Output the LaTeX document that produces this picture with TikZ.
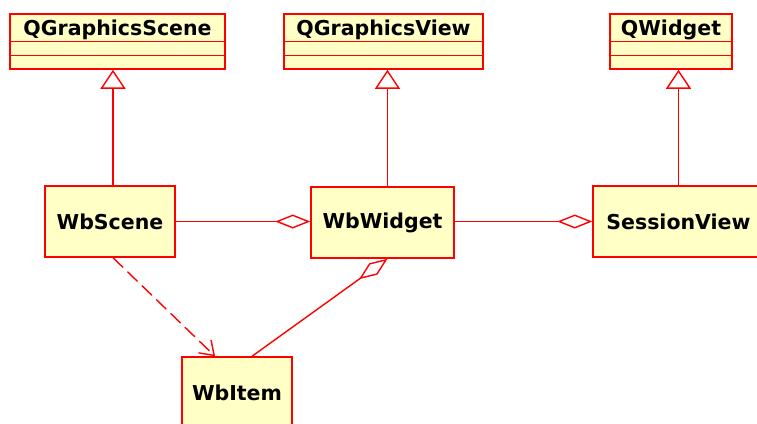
\documentclass[tikz,border=0pt]{standalone}
\usepackage{fontspec}
\setmainfont{DejaVu Sans}
\usetikzlibrary{arrows.meta,calc}
\definecolor{umlfill}{RGB}{255,255,198}
\definecolor{umlred}{RGB}{255,0,0}
\tikzset{
  classbox/.style={draw=umlred, fill=umlfill, line width=1.5bp, inner sep=0pt},
  title/.style={font=\fontsize{20.5bp}{24bp}\selectfont\bfseries, inner sep=0pt, text=black},
  edge/.style={draw=umlred, line width=1.4bp},
  gen/.style={edge, -{Triangle[open, length=19bp, width=25bp, fill=white]}},
  agg/.style={edge, -{Diamond[length=35bp, width=14bp, fill=white]}},
  dep/.style={edge, dash pattern=on 14bp off 6bp, -{Straight Barb[length=13bp, width=18bp]}},
}
\begin{document}
\begin{tikzpicture}[x=1bp, y=-1bp]
\useasboundingbox (0,0) rectangle (757,423);
\clip (0,0) rectangle (757,423);
\fill[white] (0,0) rectangle (757,423);
% parent classes with three compartments
\node[classbox, minimum width=215bp, minimum height=55bp] (QGS) at (117.5,41.5) {};
\node[classbox, minimum width=199bp, minimum height=55bp] (QGV) at (383.5,41.5) {};
\node[classbox, minimum width=122bp, minimum height=55bp] (QW) at (671,41.5) {};
\foreach \n in {QGS,QGV,QW}{
  \draw[umlred, line width=1.5bp] ([yshift=-28bp]\n.north west) -- ([yshift=-28bp]\n.north east);
  \draw[umlred, line width=1.5bp] ([yshift=-42bp]\n.north west) -- ([yshift=-42bp]\n.north east);
}
\node[title, anchor=base] (QGSt) at (117.5,35) {QGraphicsScene};
\node[title, anchor=base] (QGVt) at (383.5,35) {QGraphicsView};
\node[title, anchor=base] (QWt) at (671,35) {QWidget};
% concrete classes
\node[classbox, title, minimum width=130bp, minimum height=71bp] (WbScene) at (110,221.5) {WbScene};
\node[classbox, title, minimum width=143bp, minimum height=71bp] (WbWidget) at (382.5,222.5) {WbWidget};
\node[classbox, title, minimum width=171bp, minimum height=71bp] (SessionView) at (678.5,221.5) {SessionView};
\node[classbox, title, minimum width=110bp, minimum height=72bp] (WbItem) at (237,393) {WbItem};
% generalisations
\draw[gen] ([xshift=3bp]WbScene.north) -- ([xshift=3bp]WbScene.north |- QGS.south);
\draw[gen] ([xshift=5bp]WbWidget.north) -- ([xshift=5bp]WbWidget.north |- QGV.south);
\draw[gen] (SessionView.north) -- (SessionView.north |- QW.south);
% aggregations
\draw[agg] (WbScene.east) -- (WbScene.east -| WbWidget.west);
\draw[agg] (WbWidget.east |- SessionView.west) -- (SessionView.west);
\draw[agg] ([xshift=15bp]WbItem.north) -- ([xshift=5bp]WbWidget.south);
% dependency
\draw[dep] ([xshift=3bp]WbScene.south) -- ([xshift=-22bp]WbItem.north);
\end{tikzpicture}
\end{document}
